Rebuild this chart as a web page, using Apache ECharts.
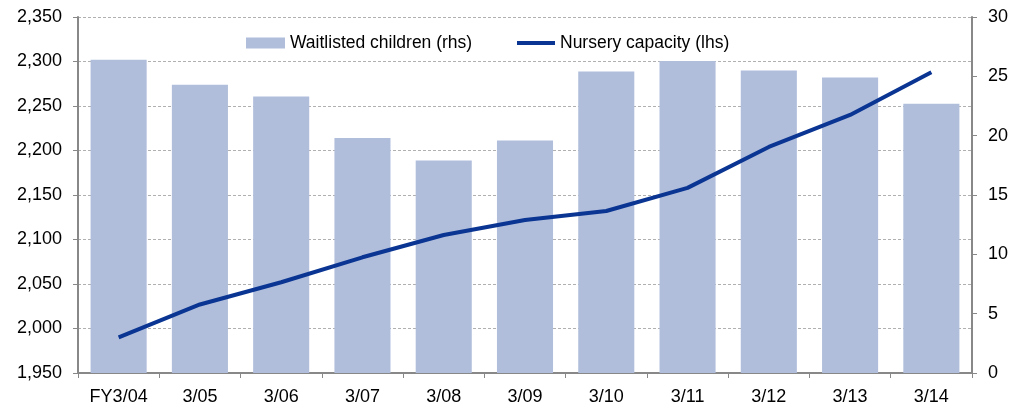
<!DOCTYPE html>
<html>
<head>
<meta charset="utf-8">
<script src="https://cdn.jsdelivr.net/npm/echarts@6/dist/echarts.min.js"></script>
<style>
  html, body { margin: 0; padding: 0; background: #fff; }
  #main { width: 1020px; height: 406px; }
</style>
</head>
<body>
<div id="main"></div>
<script>
var categories = ["FY3/04", "3/05", "3/06", "3/07", "3/08", "3/09", "3/10", "3/11", "3/12", "3/13", "3/14"];
// waitlisted children, right axis
var waitlisted = [26.4, 24.3, 23.3, 19.8, 17.9, 19.6, 25.4, 26.3, 25.5, 24.9, 22.7];
// nursery capacity, left axis
var capacity = [1990, 2027, 2052, 2080, 2105, 2122, 2132, 2158, 2204, 2240, 2288];

var myChart = echarts.init(document.getElementById('main'));
var font = 'Liberation Sans, Arial, sans-serif';
var axisText = { color: '#000', fontSize: 18, fontFamily: font };
var legendText = { color: '#000', fontSize: 17.5, fontFamily: font };
myChart.setOption({
  animation: false,
  grid: { left: 78, right: 48, top: 17, bottom: 33 },
  // two legends so each key gets its own icon height
  legend: [
    {
      top: 34, left: 246, padding: 0,
      itemWidth: 39, itemHeight: 11,
      textStyle: legendText,
      data: [{ name: 'Waitlisted children (rhs)', icon: 'rect' }]
    },
    {
      top: 34, left: 517, padding: 0,
      itemWidth: 38, itemHeight: 4,
      textStyle: legendText,
      data: [{ name: 'Nursery capacity (lhs)', icon: 'rect' }]
    }
  ],
  xAxis: {
    type: 'category',
    data: categories,
    axisLine: { lineStyle: { color: '#888', width: 2 } },
    axisTick: { show: true, length: 5, lineStyle: { color: '#888' } },
    axisLabel: Object.assign({ margin: 15 }, axisText)
  },
  yAxis: [
    {
      type: 'value', min: 1950, max: 2350, interval: 50, position: 'left',
      axisLine: { show: true, lineStyle: { color: '#888', width: 2 } },
      axisTick: { show: true, length: 5, lineStyle: { color: '#888' } },
      axisLabel: Object.assign({
        margin: 16,
        formatter: function (v) { return v.toLocaleString('en-US'); }
      }, axisText),
      splitLine: { show: true, lineStyle: { color: '#b0b0b0', type: [3, 2], width: 1 } }
    },
    {
      type: 'value', min: 0, max: 30, interval: 5, position: 'right',
      axisLine: { show: true, lineStyle: { color: '#888', width: 2 } },
      axisTick: { show: true, length: 5, lineStyle: { color: '#888' } },
      axisLabel: Object.assign({ margin: 16 }, axisText),
      splitLine: { show: false }
    }
  ],
  series: [
    {
      name: 'Waitlisted children (rhs)',
      type: 'bar',
      yAxisIndex: 1,
      barWidth: '69%',
      itemStyle: { color: '#b0bedc' },
      data: waitlisted
    },
    {
      name: 'Nursery capacity (lhs)',
      type: 'line',
      yAxisIndex: 0,
      symbol: 'none',
      lineStyle: { color: '#0a3592', width: 4 },
      itemStyle: { color: '#0a3592' },
      data: capacity
    }
  ]
});
</script>
</body>
</html>
